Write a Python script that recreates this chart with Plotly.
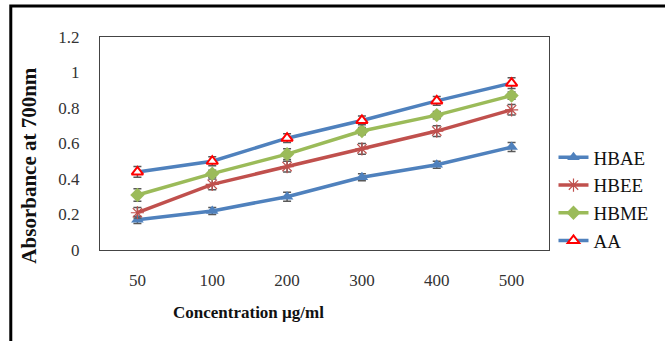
import plotly.graph_objects as go

categories = ["50", "100", "200", "300", "400", "500"]
hbae = [0.17, 0.22, 0.30, 0.41, 0.48, 0.58]
hbee = [0.21, 0.37, 0.47, 0.57, 0.67, 0.79]
hbme = [0.31, 0.43, 0.54, 0.67, 0.76, 0.87]
aa = [0.44, 0.50, 0.63, 0.73, 0.84, 0.94]
hbae_err = [0.02, 0.02, 0.025, 0.02, 0.02, 0.025]
hbee_err = [0.03, 0.03, 0.03, 0.03, 0.03, 0.03]
hbme_err = [0.035, 0.02, 0.03, 0.02, 0.02, 0.02]
aa_err = [0.03, 0.025, 0.025, 0.025, 0.025, 0.03]
y_ticks = [0, 0.2, 0.4, 0.6, 0.8, 1.0, 1.2]

SERIF = "Liberation Serif"
ERR_COLOR = "#595959"

def err(vals):
    return dict(type="data", array=vals, visible=True, color=ERR_COLOR,
                thickness=1.5, width=4)

fig = go.Figure()
fig.add_trace(go.Scatter(x=categories, y=hbae, name="HBAE", mode="lines+markers",
                         line=dict(color="#4F81BD", width=3.5),
                         marker=dict(symbol="triangle-up", size=11, color="#4F81BD"),
                         error_y=err(hbae_err), legendgroup="a"))
fig.add_trace(go.Scatter(x=categories, y=hbee, name="HBEE", mode="lines+markers",
                         line=dict(color="#C0504D", width=3.5),
                         marker=dict(symbol="asterisk-open", size=11,
                                     line=dict(color="#E07070", width=1.2)),
                         error_y=err(hbee_err), legendgroup="b"))
fig.add_trace(go.Scatter(x=categories, y=hbme, name="HBME", mode="lines+markers",
                         line=dict(color="#9BBB59", width=3.5),
                         marker=dict(symbol="diamond", size=11, color="#9BBB59"),
                         error_y=err(hbme_err), legendgroup="c"))
fig.add_trace(go.Scatter(x=categories, y=aa, name="AA", mode="lines+markers",
                         line=dict(color="#4F81BD", width=3.5),
                         marker=dict(symbol="triangle-up", size=10, color="white",
                                     line=dict(color="#FF0000", width=2)),
                         error_y=err(aa_err), legendgroup="d"))

fig.update_layout(
    width=665, height=341,
    margin=dict(l=100, r=112, t=37, b=91),
    paper_bgcolor="white", plot_bgcolor="white",
    font=dict(family=SERIF, size=17, color="#222"),
    showlegend=True,
    legend=dict(x=1.01, y=(250 - 199) / 213, xanchor="left", yanchor="middle",
                font=dict(family=SERIF, size=19, color="#111"),
                tracegroupgap=0, itemwidth=30, bgcolor="rgba(0,0,0,0)"),
    xaxis=dict(type="category", range=[-0.5, 5.5], showgrid=False,
               showline=True, linecolor="#444", linewidth=1, mirror=True,
               ticks="", ticklabelstandoff=15,
               tickfont=dict(family=SERIF, size=17, color="#333")),
    yaxis=dict(range=[0, 1.2], tickvals=y_ticks, showgrid=False, zeroline=False,
               showline=True, linecolor="#444", linewidth=1, mirror=True,
               ticks="", ticklabelstandoff=16,
               tickfont=dict(family=SERIF, size=17, color="#333")),
    shapes=[dict(type="rect", xref="paper", yref="paper",
                 x0=-0.1987, x1=1.3, y0=-0.5, y1=1.1455,
                 line=dict(color="black", width=3), fillcolor="rgba(0,0,0,0)")],
    annotations=[
        dict(text="<b>Concentration µg/ml</b>", xref="paper", yref="paper",
             x=(250 - 100) / 453, y=(250 - 312) / 213, xanchor="center", yanchor="middle",
             showarrow=False, font=dict(family=SERIF, size=17, color="#111")),
        dict(text="<b>Absorbance at 700nm</b>", xref="paper", yref="paper",
             x=(28 - 100) / 453, y=(250 - 165) / 213, xanchor="center", yanchor="middle",
             textangle=-90, showarrow=False, font=dict(family=SERIF, size=21, color="#111")),
    ],
)

fig.write_html("out.html")
